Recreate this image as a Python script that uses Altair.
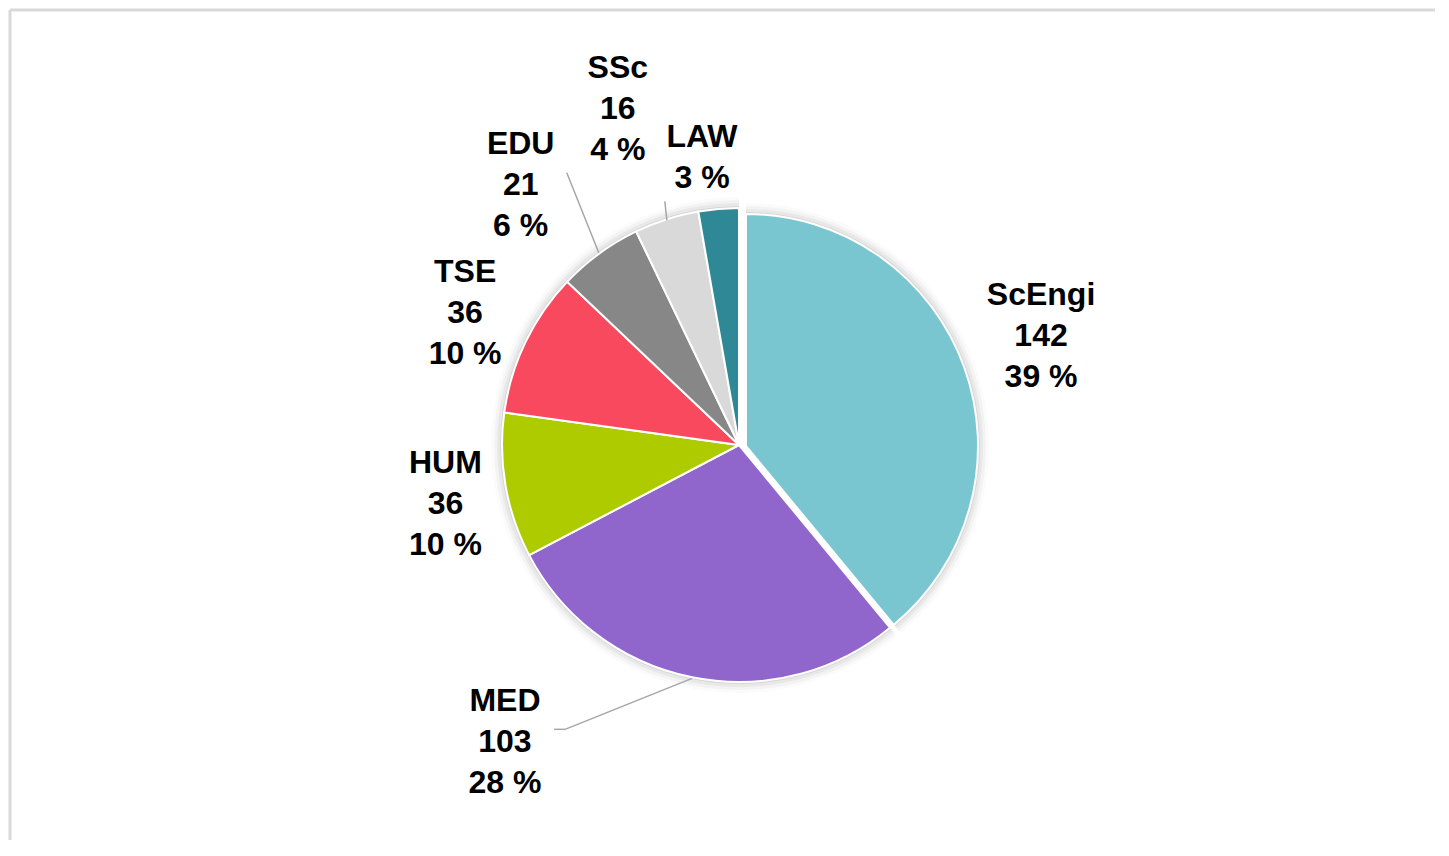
import math
import altair as alt
import pandas as pd

# ---- data ----
categories = ["ScEngi", "MED", "HUM", "TSE", "EDU", "SSc", "LAW"]
counts = [142, 103, 36, 36, 21, 16, 10]
show_count = [True, True, True, True, True, True, False]
exploded = [True, False, False, False, False, False, False]
colors = ["#7AC6D0", "#9065CC", "#AECB00", "#F8495E", "#878787", "#D9D9D9", "#2F8896"]

total = sum(counts)
labels = []
for c, n, s in zip(categories, counts, show_count):
    pct = round(100 * n / total)
    labels.append(f"{c}\n{n}\n{pct} %" if s else f"{c}\n{pct} %")

df = pd.DataFrame({
    "cat": categories,
    "n": counts,
    "order": list(range(len(categories))),
    "label": labels,
    "explode": exploded,
})

# ---- geometry / style ----
W, H = 1425, 830
CX, CY = 729, 435          # pie centre inside the plot area
R = 237
R_EX = 232
EX_X, EX_Y = 7, 1
LH = 41
TWO_PI = 2 * math.pi

theta_scale = alt.Scale(domain=[0, 1], range=[0, TWO_PI])
color_scale = alt.Scale(domain=categories, range=colors)

base = (
    alt.Chart(df)
    .transform_window(cum="sum(n)", sort=[alt.SortField("order")], frame=[None, 0])
    .transform_joinaggregate(total="sum(n)")
    .transform_calculate(
        f0="(datum.cum - datum.n) / datum.total",
        f1="datum.cum / datum.total",
        fm="(datum.cum - datum.n / 2) / datum.total",
    )
)

centre = dict(x=alt.value(CX), y=alt.value(CY))
theta_enc = dict(
    theta=alt.Theta("f0:Q", scale=theta_scale),
    theta2=alt.Theta2("f1:Q"),
    **centre,
)

layers = []

# frame (left and top edges only, the rest lies outside the window)
frame = base.transform_filter("datum.order == 0")
layers.append(frame.mark_rule(color="#D9D9D9", strokeWidth=3).encode(
    x=alt.value(0), y=alt.value(0), y2=alt.value(H)))
layers.append(frame.mark_rule(color="#D9D9D9", strokeWidth=3).encode(
    x=alt.value(0), x2=alt.value(W), y=alt.value(0)))

# soft shadow halo
for k, op in [(2, 0.07), (5, 0.045), (8, 0.03), (11, 0.015)]:
    for ex in (False, True):
        flt = "datum.explode" if ex else "!datum.explode"
        layers.append(
            base.transform_filter(flt)
            .mark_arc(radius=(R_EX if ex else R) + k, color="black", opacity=op,
                      xOffset=EX_X if ex else 0, yOffset=EX_Y if ex else 0)
            .encode(**theta_enc)
        )

# slices
for ex in (False, True):
    flt = "datum.explode" if ex else "!datum.explode"
    layers.append(
        base.transform_filter(flt)
        .mark_arc(radius=R_EX if ex else R, stroke="white", strokeWidth=2,
                  xOffset=EX_X if ex else 0, yOffset=EX_Y if ex else 0)
        .encode(
            color=alt.Color("cat:N", scale=color_scale, legend=None),
            **theta_enc,
        )
    )

# leader lines: (category, start radius, end offset x, end offset y)
leaders = [
    ("MED", 238, -127, 51),
    ("EDU", 238, -32, -80),
    ("SSc", 236, -2, -19),
]
for cat, r0, ox, oy in leaders:
    seg = (
        base.transform_filter(f"datum.cat == '{cat}'")
        .transform_calculate(
            sx=f"{CX} + {r0} * sin(datum.fm * {TWO_PI})",
            sy=f"{CY} - {r0} * cos(datum.fm * {TWO_PI})",
        )
        .transform_calculate(ex=f"datum.sx + ({ox})", ey=f"datum.sy + ({oy})")
    )
    layers.append(
        seg.mark_rule(color="#A6A6A6", strokeWidth=1.5).encode(
            x=alt.X("sx:Q", scale=None), y=alt.Y("sy:Q", scale=None),
            x2="ex:Q", y2="ey:Q",
        )
    )
    if cat == "MED":
        layers.append(
            seg.transform_calculate(ex2="datum.ex - 11")
            .mark_rule(color="#A6A6A6", strokeWidth=1.5).encode(
                x=alt.X("ex:Q", scale=None), y=alt.Y("ey:Q", scale=None),
                x2="ex2:Q", y2="ey:Q",
            )
        )

# labels: category -> (radius, dx, dy) for the block centre
label_pos = {
    "ScEngi": (321, 0, 0),
    "MED": (340, -167, -36),
    "HUM": (298, 0, 8),
    "TSE": (304, 0, 0),
    "EDU": (340, -18, 15),
    "SSc": (357, -12, 4),
    "LAW": (290, -12, 1),
}
for cat, (r, dx, dy) in label_pos.items():
    nlines = labels[categories.index(cat)].count("\n") + 1
    layers.append(
        base.transform_filter(f"datum.cat == '{cat}'")
        .mark_text(
            radius=r, dx=dx, dy=dy - (nlines - 1) * LH / 2,
            font="Liberation Sans", fontWeight="bold",
            fontSize=32, lineHeight=LH, lineBreak="\n", align="center",
            baseline="middle", color="black",
        )
        .encode(theta=alt.Theta("fm:Q", scale=theta_scale), text="label:N", **centre)
    )

chart = (
    alt.layer(*layers)
    .properties(width=W, height=H, padding=0)
    .configure_view(strokeWidth=0)
)

chart.save("out.html", embed_options={"renderer": "svg", "actions": False})
